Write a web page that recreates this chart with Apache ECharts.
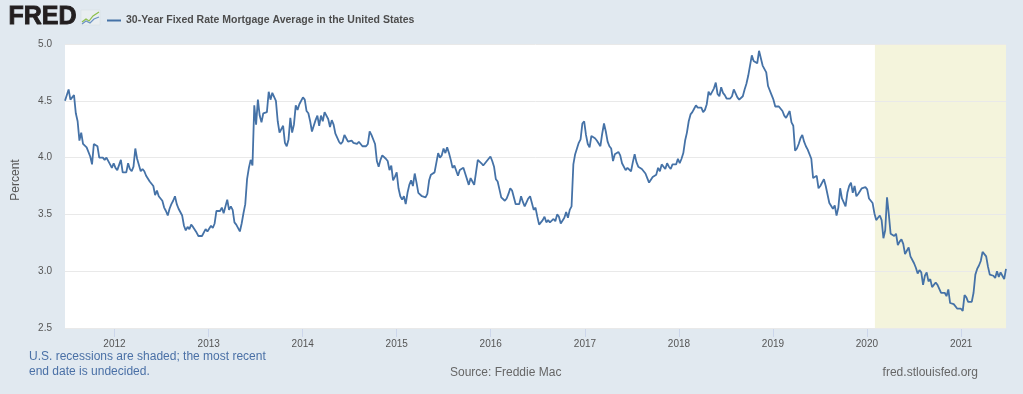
<!DOCTYPE html>
<html>
<head>
<meta charset="utf-8">
<script src="https://cdn.jsdelivr.net/npm/echarts@6/dist/echarts.min.js"></script>
<style>
html,body{margin:0;padding:0;background:#e1e9f0;}
#chart{width:1023px;height:394px;}
</style>
</head>
<body>
<div id="chart"></div>
<script>
// Weekly observations, first week 2011-06-23, one value per week
const firstWeek = '2011-06-23';
const rates2011 = [4.50,4.51,4.60,4.51,4.52,4.55,4.39,4.32,4.15,4.22,4.12,4.12,4.09,4.09,4.01,3.94,4.12,4.11,4.10,4.00,3.99,4.00,3.98,4.00,3.99,3.94,3.91,3.95];
const rates2012 = [3.91,3.89,3.88,3.98,3.87,3.87,3.87,3.95,3.90,3.88,3.92,4.08,3.99,3.98,3.88,3.90,3.88,3.84,3.83,3.79,3.78,3.75,3.67,3.71,3.66,3.66,3.62,3.56,3.53,3.49,3.55,3.59,3.62,3.66,3.59,3.55,3.55,3.49,3.40,3.36,3.39,3.37,3.41,3.39,3.40,3.34,3.31,3.32,3.31,3.32,3.37,3.35];
const rates2013 = [3.34,3.40,3.38,3.42,3.53,3.53,3.53,3.56,3.51,3.52,3.63,3.54,3.57,3.54,3.43,3.41,3.40,3.35,3.42,3.51,3.59,3.81,3.91,3.98,3.93,4.46,4.29,4.51,4.37,4.31,4.39,4.40,4.40,4.58,4.51,4.57,4.57,4.50,4.32,4.22,4.23,4.28,4.13,4.10,4.16,4.35,4.22,4.29,4.46,4.42,4.47,4.48];
const rates2014 = [4.53,4.51,4.41,4.39,4.32,4.23,4.28,4.33,4.37,4.28,4.37,4.32,4.40,4.41,4.34,4.27,4.33,4.29,4.21,4.20,4.14,4.12,4.14,4.20,4.17,4.14,4.13,4.15,4.13,4.13,4.12,4.14,4.12,4.10,4.10,4.10,4.12,4.23,4.20,4.19,4.12,3.97,3.92,3.98,4.02,4.01,3.99,3.97,3.89,3.93,3.80,3.83,3.87];
const rates2015 = [3.73,3.66,3.63,3.66,3.59,3.69,3.76,3.80,3.75,3.86,3.78,3.69,3.70,3.66,3.67,3.65,3.68,3.80,3.85,3.84,3.87,3.87,4.04,4.00,4.02,4.08,4.04,4.09,4.04,3.98,3.91,3.93,3.93,3.84,3.89,3.90,3.91,3.86,3.85,3.76,3.82,3.79,3.76,3.87,3.98,3.97,3.95,3.93,3.95,3.97,3.96,4.01];
const rates2016 = [3.97,3.92,3.81,3.79,3.72,3.65,3.65,3.62,3.64,3.68,3.73,3.71,3.71,3.59,3.58,3.59,3.66,3.61,3.57,3.58,3.64,3.66,3.60,3.54,3.56,3.48,3.41,3.42,3.45,3.48,3.43,3.45,3.43,3.43,3.46,3.44,3.50,3.48,3.42,3.42,3.47,3.52,3.47,3.54,3.57,3.94,4.03,4.08,4.13,4.16,4.30,4.32];
const rates2017 = [4.20,4.12,4.09,4.19,4.19,4.17,4.15,4.16,4.10,4.21,4.30,4.23,4.14,4.10,4.08,3.97,4.03,4.02,4.05,4.02,3.95,3.94,3.89,3.91,3.90,3.88,3.96,4.03,3.96,3.92,3.93,3.90,3.89,3.86,3.82,3.78,3.78,3.83,3.83,3.85,3.91,3.88,3.94,3.94,3.90,3.95,3.92,3.90,3.94,3.93,3.94,3.99];
const rates2018 = [3.95,3.99,4.04,4.15,4.22,4.32,4.38,4.40,4.43,4.46,4.44,4.45,4.44,4.40,4.42,4.47,4.58,4.55,4.55,4.61,4.66,4.56,4.54,4.62,4.57,4.55,4.52,4.53,4.52,4.54,4.60,4.59,4.53,4.51,4.52,4.54,4.60,4.65,4.72,4.71,4.90,4.85,4.86,4.83,4.94,4.94,4.81,4.81,4.75,4.63,4.62,4.55];
const rates2019 = [4.51,4.45,4.45,4.45,4.46,4.41,4.37,4.35,4.35,4.41,4.31,4.28,4.06,4.08,4.12,4.17,4.20,4.14,4.10,4.07,4.06,3.99,3.82,3.82,3.84,3.73,3.75,3.75,3.81,3.75,3.75,3.60,3.60,3.55,3.58,3.49,3.56,3.73,3.64,3.65,3.57,3.69,3.75,3.78,3.69,3.75,3.66,3.68,3.68,3.73,3.73,3.74];
const rates2020 = [3.72,3.64,3.65,3.60,3.51,3.45,3.47,3.49,3.45,3.29,3.36,3.65,3.50,3.33,3.33,3.31,3.33,3.23,3.26,3.28,3.24,3.15,3.18,3.21,3.13,3.13,3.07,3.03,2.98,3.01,2.99,2.88,2.96,2.99,2.91,2.93,2.86,2.87,2.90,2.88,2.87,2.81,2.80,2.81,2.78,2.84,2.72,2.72,2.71,2.71,2.67,2.66,2.67];
const rates2021 = [2.65,2.79,2.77,2.73,2.73,2.73,2.81,2.97,3.02,3.05,3.09,3.17,3.18,3.13,3.04,2.97,2.98,2.96,2.94,3.00,2.95,2.99,2.96,2.93,3.02];

const tickYears = ['2012','2013','2014','2015','2016','2017','2018','2019','2020','2021'];
const yTicks = [2.5, 3.0, 3.5, 4.0, 4.5, 5.0];
const recessions = [['2020-02-01', null]]; // null = still open (extends to last observation)

const seriesName = '30-Year Fixed Rate Mortgage Average in the United States';
const yAxisTitle = 'Percent';
const noteLines = ['U.S. recessions are shaded; the most recent', 'end date is undecided.'];
const sourceText = 'Source: Freddie Mac';
const siteText = 'fred.stlouisfed.org';

// ---- build ----
function parseDay(s){ const p = s.split('-').map(Number); return new Date(p[0], p[1]-1, p[2]).getTime(); }
const allRates = [].concat(rates2011, rates2012, rates2013, rates2014, rates2015, rates2016,
  rates2017, rates2018, rates2019, rates2020, rates2021);
const t0 = parseDay(firstWeek);
const data = allRates.map((v, i) => {
  const d = new Date(t0); d.setDate(d.getDate() + 7 * i);
  return [d.getTime(), v];
});
const tMin = data[0][0];
const tMax = data[data.length - 1][0];
const yearTicks = tickYears.map(y => new Date(Number(y), 0, 1).getTime());
const areas = recessions.map(r => [{ xAxis: parseDay(r[0]) }, { xAxis: r[1] ? parseDay(r[1]) : tMax }]);

const chart = echarts.init(document.getElementById('chart'), null, { renderer: 'canvas' });
const FONT = '"Liberation Sans", Arial, sans-serif';

chart.setOption({
  backgroundColor: '#e1e9f0',
  animation: false,
  textStyle: { fontFamily: FONT },
  grid: {
    left: 65, right: 17, top: 44, bottom: 66,
    show: true, backgroundColor: '#ffffff', borderWidth: 0
  },
  legend: {
    left: 102, top: 10,
    itemWidth: 14, itemHeight: 2, itemGap: 5,
    icon: 'rect',
    data: [seriesName],
    textStyle: { fontFamily: FONT, fontSize: 10.5, fontWeight: 'bold', color: '#4d4d4d', padding: [0, 0, 0, 0] },
    selectedMode: false
  },
  xAxis: {
    type: 'value',
    min: tMin, max: tMax,
    axisLine: { show: false },
    axisTick: { show: true, length: 9, lineStyle: { color: '#ccd6eb', width: 1 }, customValues: yearTicks },
    axisLabel: {
      customValues: yearTicks,
      formatter: (v) => String(new Date(v).getFullYear()),
      color: '#555', fontSize: 10, fontFamily: FONT, margin: 11
    },
    splitLine: { show: false }
  },
  yAxis: {
    type: 'value',
    min: yTicks[0], max: yTicks[yTicks.length - 1], interval: 0.5,
    z: 3,
    axisLine: { show: false },
    axisTick: { show: false },
    axisLabel: { formatter: v => v.toFixed(1), color: '#555', fontSize: 10, fontFamily: FONT, margin: 13 },
    splitLine: { show: true, lineStyle: { color: '#e9e9e9', width: 1 } }
  },
  series: [
    {
      name: 'recession',
      type: 'line',
      data: data,
      z: 1,
      silent: true,
      showSymbol: false,
      lineStyle: { width: 0, opacity: 0 },
      markArea: {
        silent: true,
        itemStyle: { color: '#f4f4dc' },
        data: areas
      }
    },
    {
      name: seriesName,
      type: 'line',
      data: data,
      z: 5,
      showSymbol: false,
      symbol: 'none',
      color: '#4572a7',
      lineStyle: { color: '#4572a7', width: 1.8 }
    }
  ],
  graphic: [
    { type: 'text', left: 8, top: 4, style: { text: 'FRED', font: 'bold 25px ' + FONT, fill: '#231f20', stroke: '#231f20', lineWidth: 0.9 } },
    { type: 'rect', shape: { x: 81, y: 10, width: 19, height: 15 }, style: { fill: '#e9eef1', stroke: '#d5dde3', lineWidth: 0.5 } },
    { type: 'polyline', shape: { points: [[82,22],[86,19],[89,21],[93,16],[99,12]] }, style: { stroke: '#8cbf4a', lineWidth: 1.2, fill: null } },
    { type: 'polyline', shape: { points: [[82,24],[86,21],[90,23],[94,19],[99,17]] }, style: { stroke: '#6d93c4', lineWidth: 1.2, fill: null } },
    { type: 'text', x: 16, y: 180, rotation: Math.PI / 2, style: { text: yAxisTitle, font: '12px ' + FONT, fill: '#555', align: 'center', verticalAlign: 'middle' } },
    { type: 'text', x: 29, y: 357, style: { text: noteLines[0], font: '12px ' + FONT, fill: '#4a70a6', verticalAlign: 'middle' } },
    { type: 'text', x: 29, y: 372, style: { text: noteLines[1], font: '12px ' + FONT, fill: '#4a70a6', verticalAlign: 'middle' } },
    { type: 'text', x: 450, y: 373, style: { text: sourceText, font: '12px ' + FONT, fill: '#666', verticalAlign: 'middle' } },
    { type: 'text', x: 978, y: 373, style: { text: siteText, font: '12px ' + FONT, fill: '#666', align: 'right', verticalAlign: 'middle' } }
  ]
});
</script>
</body>
</html>
